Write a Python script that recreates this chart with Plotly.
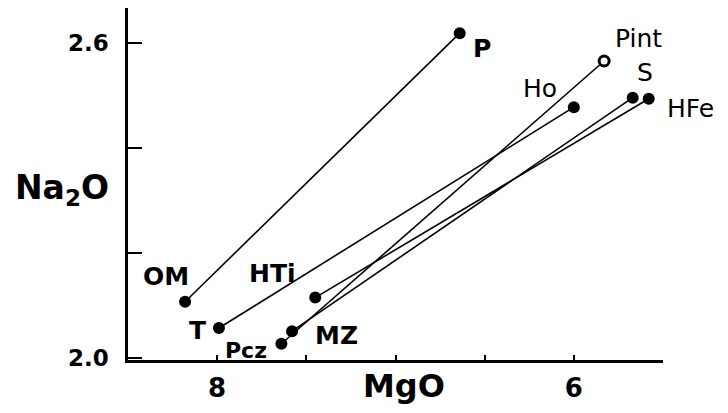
import plotly.graph_objects as go

# Lower (start) points
lower_names = ["OM", "T", "Pcz", "MZ", "HTi"]
lower_mgo = [8.18, 7.99, 7.64, 7.58, 7.45]
lower_na2o = [2.107, 2.057, 2.027, 2.051, 2.115]

# Upper (end) points, paired with the lower ones
upper_names = ["P", "Ho", "Pint", "S", "HFe"]
upper_mgo = [6.64, 6.00, 5.83, 5.67, 5.58]
upper_na2o = [2.619, 2.478, 2.566, 2.496, 2.494]
upper_open = [False, False, True, False, False]

# Axis ticks
x_tickvals = [8.0, 6.0]
x_ticktext = ["8", "6"]
x_minor_ticks = [7.5, 7.0, 6.5, 5.5]
y_tickvals = [2.0, 2.6]
y_ticktext = ["2.0", "2.6"]
y_minor_ticks = [2.2, 2.4]

FONT = "DejaVu Sans, Liberation Sans, sans-serif"

fig = go.Figure()

# connecting lines
for i in range(len(lower_names)):
    fig.add_trace(go.Scatter(
        x=[lower_mgo[i], upper_mgo[i]], y=[lower_na2o[i], upper_na2o[i]],
        mode="lines", line=dict(color="black", width=1.6),
        showlegend=False, hoverinfo="skip"))

# filled markers
fx = lower_mgo + [m for m, o in zip(upper_mgo, upper_open) if not o]
fy = lower_na2o + [v for v, o in zip(upper_na2o, upper_open) if not o]
fig.add_trace(go.Scatter(x=fx, y=fy, mode="markers",
                         marker=dict(color="black", size=12, line=dict(width=0)),
                         showlegend=False))
# open markers
ox = [m for m, o in zip(upper_mgo, upper_open) if o]
oy = [v for v, o in zip(upper_na2o, upper_open) if o]
fig.add_trace(go.Scatter(x=ox, y=oy, mode="markers",
                         marker=dict(color="white", size=10, line=dict(width=3, color="black")),
                         showlegend=False))

# point labels: (dx, dy, size, bold)
label_style = {
    "OM": (-19, 25, 25, True),
    "T": (-21, -2, 25, True),
    "Pcz": (-35, -7, 22, True),
    "MZ": (44, -4, 25, True),
    "HTi": (-43, 24, 25, True),
    "P": (22, -15, 25, True),
    "Ho": (-34, 19, 25, False),
    "Pint": (34, 22, 25, False),
    "S": (12, 25, 25, False),
    "HFe": (42, -10, 25, False),
}
for names, xs, ys in [(lower_names, lower_mgo, lower_na2o), (upper_names, upper_mgo, upper_na2o)]:
    for n, xv, yv in zip(names, xs, ys):
        dx, dy, sz, bold = label_style[n]
        fig.add_annotation(x=xv, y=yv, xref="x", yref="y", text=n, showarrow=False,
                           xshift=dx, yshift=dy, xanchor="center", yanchor="middle",
                           font=dict(family=FONT, size=sz, color="black",
                                     weight="bold" if bold else "normal"))

# axis titles
fig.add_annotation(xref="paper", yref="paper", x=-0.123, y=0.483,
                   text="Na<sub>2</sub>O", showarrow=False, xanchor="center", yanchor="middle",
                   font=dict(family=FONT, size=33, color="black", weight="bold"))
fig.add_annotation(xref="paper", yref="paper", x=0.516, y=-0.074,
                   text="MgO", showarrow=False, xanchor="center", yanchor="middle",
                   font=dict(family=FONT, size=32, color="black", weight="bold"))

fig.update_layout(
    width=728, height=413,
    margin=dict(l=128, r=65, t=8, b=53, autoexpand=False),
    paper_bgcolor="white", plot_bgcolor="white",
    showlegend=False,
    xaxis=dict(range=[8.5, 5.5], showgrid=False, zeroline=False, automargin=False,
               showline=True, linecolor="black", linewidth=2.5,
               ticks="inside", ticklen=5, tickwidth=2, tickcolor="black",
               tickvals=x_tickvals, ticktext=x_ticktext, ticklabelstandoff=3,
               minor=dict(tickvals=x_minor_ticks, ticks="inside", ticklen=5,
                          tickwidth=2, tickcolor="black", showgrid=False),
               tickfont=dict(family=FONT, size=26, color="black", weight="bold")),
    yaxis=dict(range=[1.996, 2.667], showgrid=False, zeroline=False, automargin=False,
               showline=True, linecolor="black", linewidth=2.5,
               ticks="inside", ticklen=14, tickwidth=2, tickcolor="black",
               tickvals=y_tickvals, ticktext=y_ticktext, ticklabelstandoff=12,
               minor=dict(tickvals=y_minor_ticks, ticks="inside", ticklen=14,
                          tickwidth=2, tickcolor="black", showgrid=False),
               tickfont=dict(family=FONT, size=23, color="black", weight="bold")),
)

fig.write_html("out.html", config={"displayModeBar": False},
               post_script="document.body.style.margin='0';document.body.style.overflow='hidden';")
